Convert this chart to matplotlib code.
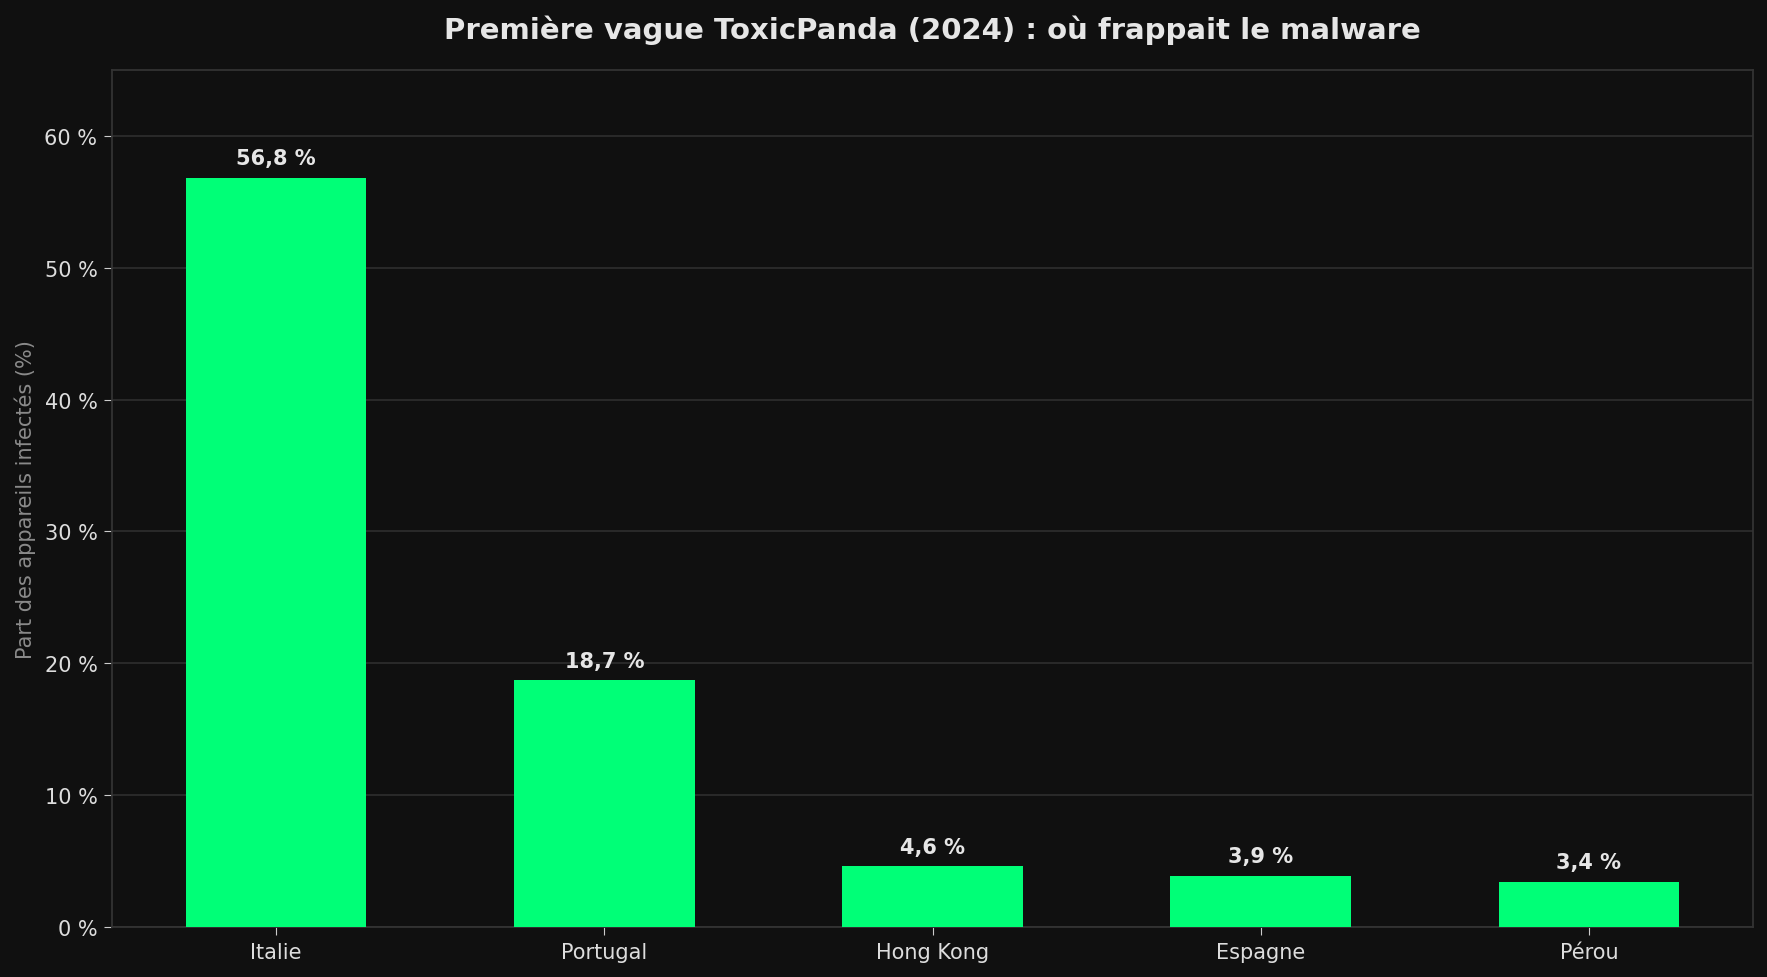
import matplotlib
matplotlib.use("Agg")
import matplotlib.pyplot as plt

countries = ["Italie", "Portugal", "Hong Kong", "Espagne", "Pérou"]
shares = [56.8, 18.7, 4.6, 3.9, 3.4]
yticks = [0, 10, 20, 30, 40, 50, 60]

W, H = 1767, 978
bg = "#101010"
fig = plt.figure(figsize=(W/100, H/100), dpi=100, facecolor=bg)
left, right, top, bottom = 112, 1753, 71, 928
ax = fig.add_axes([left/W, 1-bottom/H, (right-left)/W, (bottom-top)/H])
ax.set_facecolor(bg)

x = list(range(len(countries)))
ax.bar(x, shares, width=0.55, color="#00ff77", zorder=3)
for xi, v in zip(x, shares):
    ax.annotate(f"{v:.1f} %".replace(".", ","), (xi, v), xytext=(0, 7),
                textcoords="offset points", ha="center", va="bottom",
                color="#e6e6e6", fontsize=15, fontweight="bold")

ax.set_xlim(-0.5, len(countries) - 0.5)
ax.set_ylim(0, 65)
ax.set_xticks(x)
ax.set_xticklabels(countries)
ax.set_yticks(yticks)
ax.set_yticklabels([f"{t} %" for t in yticks])
ax.tick_params(colors="#dddddd", labelsize=15, length=5.5, color="#cccccc", pad=5)
ax.grid(axis="y", color="#2c2c2c", linewidth=1.3, zorder=0)
for s in ax.spines.values():
    s.set_color("#333333")
    s.set_linewidth(1.3)
ax.set_ylabel("Part des appareils infectés (%)", color="#8a8a8a", fontsize=15, labelpad=6)
fig.suptitle("Première vague ToxicPanda (2024) : où frappait le malware",
             color="#e6e6e6", fontsize=21, fontweight="bold", y=0.984,
             x=(left + right) / 2 / W)
fig.savefig("out.png", dpi=100, facecolor=bg)
